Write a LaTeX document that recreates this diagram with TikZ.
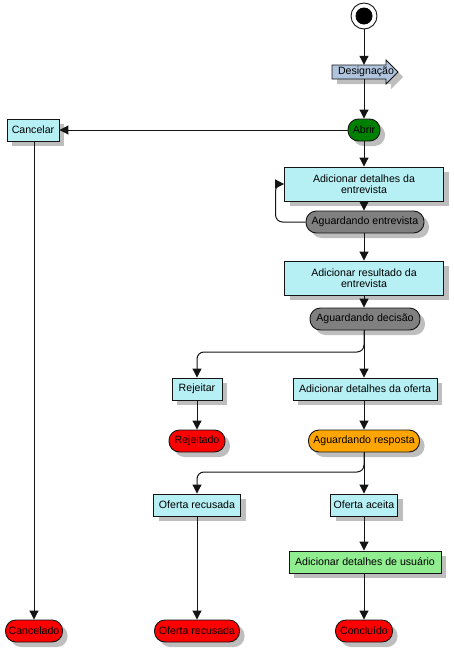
\documentclass[tikz,border=0pt]{standalone}
\usepackage{fontspec}
\setmainfont{Liberation Sans}
\usetikzlibrary{shadows,arrows.meta,positioning}
\definecolor{boxc}{RGB}{182,240,245}
\definecolor{stateg}{RGB}{128,128,128}
\definecolor{stred}{RGB}{255,0,0}
\definecolor{storange}{RGB}{255,165,0}
\definecolor{stgreen}{RGB}{0,128,0}
\definecolor{lgreen}{RGB}{144,238,144}
\definecolor{steel}{RGB}{176,196,222}
\definecolor{shadowc}{RGB}{190,190,190}
\definecolor{linec}{RGB}{20,20,20}
\tikzset{
  shad/.style={drop shadow={shadow xshift=5pt,shadow yshift=-5pt,fill=shadowc,opacity=1}},
  txt/.style={font=\fontsize{10.6}{11.5}\selectfont},
  base/.style={draw=linec,line width=0.9pt,txt,inner sep=1pt,align=center,shad},
  actbox/.style={base,rectangle,fill=boxc,minimum height=22pt},
  statebox/.style={base,rectangle,rounded corners=10.5pt,minimum height=22pt},
  arr/.style={draw=linec,line width=1pt,-{Triangle[length=9pt,width=9pt]}},
  plain/.style={draw=linec,line width=1pt}
}
\begin{document}
\begin{tikzpicture}[x=1pt,y=-1pt]
\useasboundingbox (0,0) rectangle (453,648);
% start
\node[circle,draw=linec,line width=0.9pt,fill=white,minimum size=26pt,inner sep=0pt] (start) at (364,16) {};
\fill[black] (364,16) circle (8.5pt);
% Designacao arrow
\fill[shadowc] (337,70) -- (391,70) -- (391,65) -- (403,77) -- (391,89) -- (391,84) -- (337,84) -- cycle;
\draw[draw=linec,line width=0.9pt,fill=steel] (332,65) -- (386,65) -- (386,60) -- (398,72) -- (386,84) -- (386,79) -- (332,79) -- cycle;
\node[txt,minimum width=64pt,minimum height=14pt,inner sep=0pt] (des) at (366,72) {Designação};
% nodes
\node[statebox,fill=stgreen,minimum width=32pt] (abrir) at (364,130) {Abrir};
\node[actbox,minimum width=52pt] (cancelar) at (33,130) {Cancelar};
\node[actbox,minimum width=159pt,minimum height=34pt] (ade) at (364,184) {Adicionar detalhes da\\entrevista};
\node[statebox,fill=stateg,minimum width=118pt] (ae) at (365,222) {Aguardando entrevista};
\node[actbox,minimum width=159pt,minimum height=34pt] (are) at (364,278) {Adicionar resultado da\\entrevista};
\node[statebox,fill=stateg,minimum width=110pt] (ad) at (365,319) {Aguardando decisão};
\node[actbox,minimum width=50pt] (rej) at (197,389) {Rejeitar};
\node[actbox,minimum width=144pt] (ado) at (365,389) {Adicionar detalhes da oferta};
\node[statebox,fill=stred,minimum width=56pt] (rejd) at (197,441) {Rejeitado};
\node[statebox,fill=storange,minimum width=111pt] (ar) at (364,441) {Aguardando resposta};
\node[actbox,minimum width=87pt] (ofr) at (197,505) {Oferta recusada};
\node[actbox,minimum width=67pt] (ofa) at (364,505) {Oferta aceita};
\node[actbox,fill=lgreen,minimum width=152pt] (adu) at (365,562) {Adicionar detalhes de usuário};
\node[statebox,fill=stred,minimum width=85pt] (ofrd) at (197,631) {Oferta recusada};
\node[statebox,fill=stred,minimum width=57pt] (conc) at (364,631) {Concluído};
\node[statebox,fill=stred,minimum width=57pt] (canc) at (34,631) {Cancelado};
\coordinate (b1) at (364,352);
\coordinate (b2) at (364,472);
% connectors
\draw[arr] (start) -- (start |- des.north);
\draw[arr] (abrir |- des.south) -- (abrir);
\draw[arr] (abrir) -- (cancelar);
\draw[arr] (abrir) -- (abrir |- ade.north);
\draw[arr] (abrir |- ade.south) -- (abrir |- ae.north);
\draw[arr,rounded corners=7pt] (ae.west) -- ++(-30,0) |- (ade.west);
\draw[arr] (abrir |- ae.south) -- (abrir |- are.north);
\draw[arr] (abrir |- are.south) -- (abrir |- ad.north);
\draw[arr] (abrir |- ad.south) -- (abrir |- ado.north);
\draw[arr,rounded corners=7pt] (abrir |- ad.south) -- (b1) -| (rej.north);
\draw[arr] (rej) -- (rejd);
\draw[arr] (abrir |- ado.south) -- (ar);
\draw[arr] (ar) -- (ofa);
\draw[arr,rounded corners=7pt] (ar.south) -- (b2) -| (ofr.north);
\draw[arr] (ofa) -- (ofa |- adu.north);
\draw[arr] (ofa |- adu.south) -- (conc);
\draw[arr] (ofr) -- (ofrd);
\draw[arr] (cancelar.south -| canc.north) -- (canc.north);
\end{tikzpicture}
\end{document}
